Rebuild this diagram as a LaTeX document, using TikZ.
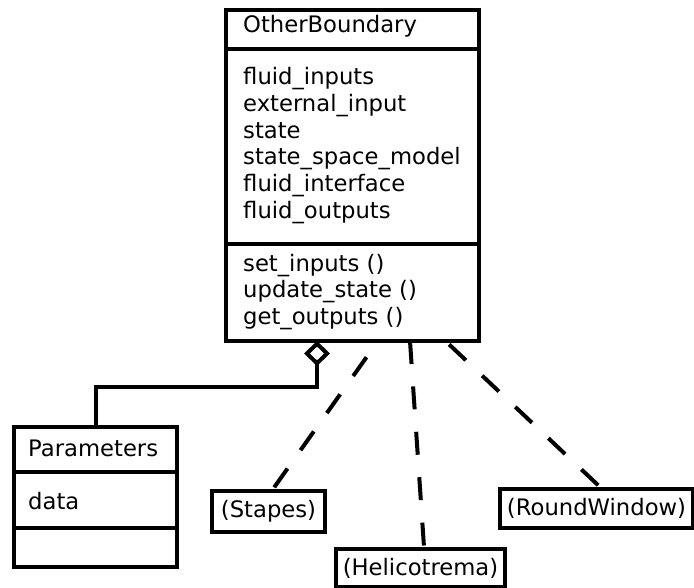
\documentclass[tikz,border=0pt]{standalone}
\usepackage{fontspec}
\setmainfont{DejaVu Sans}
\usetikzlibrary{arrows.meta}

\begin{document}
\begin{tikzpicture}[x=1pt,y=-1pt,
  every node/.style={font=\fontsize{22.7}{27}\selectfont},
  classbox/.style={draw,line width=4pt,inner sep=0pt,outer sep=0pt},
  objbox/.style={draw,line width=4pt,inner sep=0pt,outer sep=2pt},
  txt/.style={anchor=base west,inner sep=0pt},
  dep/.style={line width=4pt,dash pattern=on 23pt off 22.5pt},
  agg/.style={line width=4pt,-{Diamond[open,length=25pt,width=26pt]}}]
\useasboundingbox (0,0) rectangle (694,588);

\node[classbox,minimum width=253pt,minimum height=331pt] (ob) at (352.5,175.5) {};
\draw[line width=4pt] (226,49) -- (479,49);
\draw[line width=4pt] (226,244) -- (479,244);
\node[txt] (obname) at (243,32.5) {OtherBoundary};
\node[txt] (fin) at (243,85) {fluid\_inputs};
\node[txt] (ext) at (243,111.7) {external\_input};
\node[txt] (st) at (243,138.4) {state};
\node[txt] (ssm) at (243,165) {state\_space\_model};
\node[txt] (fif) at (243,191.8) {fluid\_interface};
\node[txt] (fout) at (243,218.5) {fluid\_outputs};
\node[txt] (setin) at (243,272) {set\_inputs ()};
\node[txt] (upd) at (243,298) {update\_state ()};
\node[txt] (getout) at (243,324) {get\_outputs ()};

\node[classbox,minimum width=163pt,minimum height=140pt] (par) at (95.5,497) {};
\draw[line width=4pt] (14,472) -- (177,472);
\draw[line width=4pt] (14,528) -- (177,528);
\node[txt] (parname) at (28,456) {Parameters};
\node[txt] (data) at (28,509) {data};

\node[objbox,minimum width=113pt,minimum height=41pt] (stapes) at (268.5,511.5) {(Stapes)};
\node[objbox,minimum width=169pt,minimum height=38pt] (heli) at (420.5,568) {(Helicotrema)};
\node[objbox,minimum width=193pt,minimum height=39pt] (rw) at (596.5,508.5) {(RoundWindow)};

\coordinate (bend) at (317,387);
\draw[agg] (par.north) |- (bend) -- ([xshift=-35.5pt]ob.south);
\draw[dep,dash phase=25.6pt] ([xshift=25.5pt]ob.south) -- ([xshift=4.5pt]stapes.north);
\draw[dep] ([xshift=57.5pt]ob.south) -- ([xshift=3.5pt]heli.north);
\draw[dep,dash phase=40.5pt] ([xshift=93pt]ob.south) -- ([xshift=3.5pt]rw.north);
\end{tikzpicture}
\end{document}
